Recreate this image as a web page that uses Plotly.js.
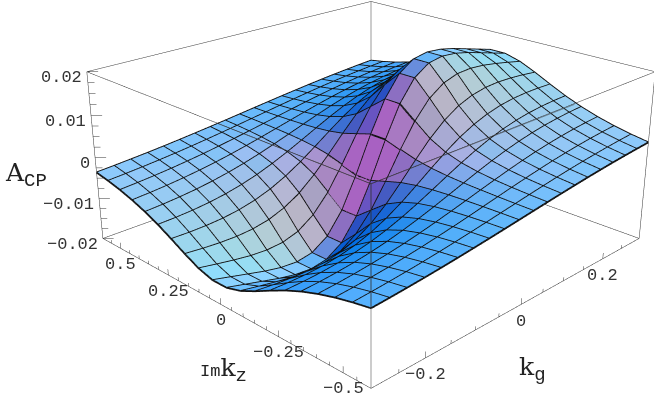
<!DOCTYPE html>
<html>
<head>
<meta charset="utf-8">
<script src="https://cdn.plot.ly/plotly-3.0.1.min.js"></script>
<style>
  html, body { margin: 0; padding: 0; width: 654px; height: 400px; overflow: hidden; background: #fff; }
  /* plotly's fov is fixed, so the scene is oversized to get the long lens look */
  #chart { position: absolute; left: -408px; top: -319px; width: 1558px; height: 953px; }
</style>
</head>
<body>
<div id="chart"></div>
<script>
const kgValues = [-0.3, -0.268, -0.237, -0.205, -0.174, -0.142, -0.111, -0.079, -0.047, -0.016,
                  0.016, 0.047, 0.079, 0.111, 0.142, 0.174, 0.205, 0.237, 0.268, 0.3];
const kzValues = [-0.6, -0.537, -0.474, -0.411, -0.347, -0.284, -0.221, -0.158, -0.095, -0.032,
                  0.032, 0.095, 0.158, 0.221, 0.284, 0.347, 0.411, 0.474, 0.537, 0.6];

// A_CP in units of 10^-3, one row per kz value, one column per kg value
const acpValues = [
  [-3.61,-3.36,-3.07,-2.75,-2.40,-2.01,-1.60,-1.16,-0.70,-0.24,0.24,0.70,1.16,1.60,2.01,2.40,2.75,3.07,3.36,3.61],
  [-4.26,-3.99,-3.68,-3.31,-2.91,-2.45,-1.96,-1.42,-0.86,-0.29,0.29,0.86,1.42,1.96,2.45,2.91,3.31,3.68,3.99,4.26],
  [-5.07,-4.79,-4.46,-4.05,-3.58,-3.04,-2.44,-1.78,-1.08,-0.37,0.37,1.08,1.78,2.44,3.04,3.58,4.05,4.46,4.79,5.07],
  [-6.09,-5.82,-5.47,-5.02,-4.49,-3.85,-3.12,-2.29,-1.39,-0.48,0.48,1.39,2.29,3.12,3.85,4.49,5.02,5.47,5.82,6.09],
  [-7.37,-7.15,-6.82,-6.36,-5.77,-5.01,-4.11,-3.05,-1.87,-0.64,0.64,1.87,3.05,4.11,5.01,5.77,6.36,6.82,7.15,7.37],
  [-8.90,-8.79,-8.55,-8.13,-7.52,-6.65,-5.56,-4.18,-2.59,-0.90,0.90,2.59,4.18,5.56,6.65,7.52,8.13,8.55,8.79,8.90],
  [-10.69,-10.79,-10.73,-10.47,-9.94,-9.03,-7.74,-5.96,-3.75,-1.31,1.31,3.75,5.96,7.74,9.03,9.94,10.47,10.73,10.79,10.69],
  [-12.58,-12.99,-13.25,-13.33,-13.08,-12.33,-10.96,-8.73,-5.64,-2.00,2.00,5.64,8.73,10.96,12.33,13.08,13.33,13.25,12.99,12.58],
  [-14.27,-15.05,-15.74,-16.34,-16.61,-16.34,-15.20,-12.70,-8.53,-3.10,3.10,8.53,12.70,15.20,16.34,16.61,16.34,15.74,15.05,14.27],
  [-15.30,-16.35,-17.37,-18.41,-19.20,-19.51,-18.86,-16.43,-11.47,-4.26,4.26,11.47,16.43,18.86,19.51,19.20,18.41,17.37,16.35,15.30],
  [-15.30,-16.35,-17.37,-18.41,-19.20,-19.51,-18.86,-16.43,-11.47,-4.26,4.26,11.47,16.43,18.86,19.51,19.20,18.41,17.37,16.35,15.30],
  [-14.27,-15.05,-15.74,-16.34,-16.61,-16.34,-15.20,-12.70,-8.53,-3.10,3.10,8.53,12.70,15.20,16.34,16.61,16.34,15.74,15.05,14.27],
  [-12.58,-12.99,-13.25,-13.33,-13.08,-12.33,-10.96,-8.73,-5.64,-2.00,2.00,5.64,8.73,10.96,12.33,13.08,13.33,13.25,12.99,12.58],
  [-10.69,-10.79,-10.73,-10.47,-9.94,-9.03,-7.74,-5.96,-3.75,-1.31,1.31,3.75,5.96,7.74,9.03,9.94,10.47,10.73,10.79,10.69],
  [-8.90,-8.79,-8.55,-8.13,-7.52,-6.65,-5.56,-4.18,-2.59,-0.90,0.90,2.59,4.18,5.56,6.65,7.52,8.13,8.55,8.79,8.90],
  [-7.37,-7.15,-6.82,-6.36,-5.77,-5.01,-4.11,-3.05,-1.87,-0.64,0.64,1.87,3.05,4.11,5.01,5.77,6.36,6.82,7.15,7.37],
  [-6.09,-5.82,-5.47,-5.02,-4.49,-3.85,-3.12,-2.29,-1.39,-0.48,0.48,1.39,2.29,3.12,3.85,4.49,5.02,5.47,5.82,6.09],
  [-5.07,-4.79,-4.46,-4.05,-3.58,-3.04,-2.44,-1.78,-1.08,-0.37,0.37,1.08,1.78,2.44,3.04,3.58,4.05,4.46,4.79,5.07],
  [-4.26,-3.99,-3.68,-3.31,-2.91,-2.45,-1.96,-1.42,-0.86,-0.29,0.29,0.86,1.42,1.96,2.45,2.91,3.31,3.68,3.99,4.26],
  [-3.61,-3.36,-3.07,-2.75,-2.40,-2.01,-1.60,-1.16,-0.70,-0.24,0.24,0.70,1.16,1.60,2.01,2.40,2.75,3.07,3.36,3.61]
];

const kgRange = [-0.3, 0.3];
const kzRange = [-0.6, 0.6];
const acpRange = [-0.02, 0.02];

const kgLabelled = [-0.2, 0, 0.2];
const kzLabelled = [-0.5, -0.25, 0, 0.25, 0.5];
const acpLabelled = [-0.02, -0.01, 0, 0.01, 0.02];
const kgMinor = [-0.25, -0.15, -0.1, -0.05, 0.05, 0.1, 0.15, 0.25];
const kzMinor = [-0.45, -0.4, -0.35, -0.3, -0.2, -0.15, -0.1, -0.05, 0.05, 0.1, 0.15, 0.2, 0.3, 0.35, 0.4, 0.45, 0.55, -0.55];
const acpMinor = [-0.0175, -0.015, -0.0125, -0.0075, -0.005, -0.0025, 0.0025, 0.005, 0.0075, 0.0125, 0.015, 0.0175];

const boxZ = 0.46;
const elev = 22 * Math.PI / 180;
const eye = { x: -1.934, y: -1.934, z: 1.10 };

const monoFont = "Liberation Mono, Courier New, monospace";
const serifFont = "DejaVu Serif, Liberation Serif, serif";
const acp = acpValues.map(row => row.map(v => v * 1e-3));

// shading from the cell normal, tuned by eye to the reference tones
function shade(n) {
  const len = Math.hypot(n[0], n[1], n[2]);
  const nx = n[0] / len, ny = n[1] / len, nz = n[2] / len;
  const right = (nx - ny) * Math.SQRT1_2;
  const up = (nx + ny) * Math.SQRT1_2 * Math.sin(elev) + nz * Math.cos(elev);
  const steep = Math.max(0, 0.9 - up);
  let r, g;
  if (right < 0) {
    r = Math.min(0.66, 0.48 + right + 1.27 * steep);
    g = 0.78 + 0.61 * right - 0.25 * steep * Math.max(0, 1 + right / 0.7);
  } else {
    r = Math.min(0.72, 0.48 + Math.min(right, 0.07) + 0.4 * steep);
    g = Math.max(0.6, 0.78 + 0.3 * right - 0.25 * steep);
  }
  const b = Math.max(0.76, 0.62 + 0.42 * up + 0.14 * Math.min(0, right));
  const c = v => Math.round(255 * Math.max(0, Math.min(1, v)));
  return `rgb(${c(r)},${c(g)},${c(b)})`;
}

const vx = [], vy = [], vz = [], ti = [], tj = [], tk = [], faceColor = [];
const nk = kgValues.length, nz = kzValues.length;
for (let r = 0; r < nz; r++) {
  for (let c = 0; c < nk; c++) {
    vx.push(kgValues[c]);
    vy.push(kzValues[r]);
    vz.push(acp[r][c]);
  }
}
for (let r = 0; r < nz - 1; r++) {
  for (let c = 0; c < nk - 1; c++) {
    const a = r * nk + c, b = a + 1, d = a + nk, e = d + 1;
    const sx = 1 / 0.3, sy = 1 / 0.6, sz = boxZ / 0.02;
    const u = [(kgValues[c + 1] - kgValues[c]) * sx, 0, ((acp[r][c + 1] + acp[r + 1][c + 1] - acp[r][c] - acp[r + 1][c]) / 2) * sz];
    const v = [0, (kzValues[r + 1] - kzValues[r]) * sy, ((acp[r + 1][c] + acp[r + 1][c + 1] - acp[r][c] - acp[r][c + 1]) / 2) * sz];
    const n = [u[1] * v[2] - u[2] * v[1], u[2] * v[0] - u[0] * v[2], u[0] * v[1] - u[1] * v[0]];
    const col = shade(n);
    ti.push(a, a);
    tj.push(b, e);
    tk.push(e, d);
    faceColor.push(col, col);
  }
}

const surface = {
  type: "mesh3d", x: vx, y: vy, z: vz, i: ti, j: tj, k: tk,
  facecolor: faceColor, flatshading: true, hoverinfo: "skip", showscale: false,
  lighting: { ambient: 1, diffuse: 0, specular: 0, fresnel: 0, roughness: 1 }
};

// mesh lines
const gx = [], gy = [], gz = [];
for (let r = 0; r < nz; r++) {
  for (let c = 0; c < nk; c++) { gx.push(kgValues[c]); gy.push(kzValues[r]); gz.push(acp[r][c]); }
  gx.push(null); gy.push(null); gz.push(null);
}
for (let c = 0; c < nk; c++) {
  for (let r = 0; r < nz; r++) { gx.push(kgValues[c]); gy.push(kzValues[r]); gz.push(acp[r][c]); }
  gx.push(null); gy.push(null); gz.push(null);
}
const meshLines = {
  type: "scatter3d", mode: "lines", x: gx, y: gy, z: gz, hoverinfo: "skip",
  line: { color: "#111", width: 3.5 }, showlegend: false
};

// bounding box
const [x0, x1] = kgRange, [y0, y1] = kzRange, [z0, z1] = acpRange;
const bx = [], by = [], bz = [];
function seg(a, b) {
  bx.push(a[0], b[0], null); by.push(a[1], b[1], null); bz.push(a[2], b[2], null);
}
[z0, z1].forEach(z => {
  seg([x0, y0, z], [x1, y0, z]); seg([x1, y0, z], [x1, y1, z]);
  seg([x1, y1, z], [x0, y1, z]); seg([x0, y1, z], [x0, y0, z]);
});
seg([x0, y0, z0], [x0, y0, z1]); seg([x1, y0, z0], [x1, y0, z1]);
seg([x1, y1, z0], [x1, y1, z1]); seg([x0, y1, z0], [x0, y1, z1]);

// ticks
kgLabelled.forEach(k => seg([k, y0, z0], [k, y0, z0 + 0.0014]));
kgMinor.forEach(k => seg([k, y0, z0], [k, y0, z0 + 0.0008]));
kzLabelled.forEach(k => seg([x0, k, z0], [x0, k, z0 + 0.0014]));
kzMinor.forEach(k => seg([x0, k, z0], [x0, k, z0 + 0.0008]));
acpLabelled.forEach(v => seg([x0, y1, v], [x0 + 0.012, y1 - 0.024, v]));
acpMinor.forEach(v => seg([x0, y1, v], [x0 + 0.007, y1 - 0.014, v]));

const boxLines = {
  type: "scatter3d", mode: "lines", x: bx, y: by, z: bz, hoverinfo: "skip",
  line: { color: "#333", width: 1 }, showlegend: false
};

function fmt(v) {
  return String(v).replace("-", "\u2212");
}
const tickFont = { family: monoFont, size: 17, color: "#333" };
const bigFont = { family: serifFont, size: 25, color: "#222" };
const mono = (t, s) => `<span style="font-family:'Liberation Mono';font-size:${s}px">${t}</span>`;
const annotations = [];
kgLabelled.forEach(k => annotations.push({
  x: k, y: y0, z: z0, text: fmt(k), showarrow: false, font: tickFont, yshift: -17
}));
kzLabelled.forEach(k => annotations.push({
  x: x0, y: k, z: z0, text: fmt(k), showarrow: false, font: tickFont, yshift: -16
}));
acpLabelled.forEach(v => annotations.push({
  x: x0, y: y1, z: v, text: fmt(v), showarrow: false, font: tickFont, xanchor: "right", xshift: -3, yshift: -6
}));
annotations.push({
  x: x0, y: y1, z: 0, text: "A<sub>" + mono("CP", 19) + "</sub>", showarrow: false, xanchor: "right", xshift: -46, yshift: -18,
  font: bigFont
});
annotations.push({
  x: x0, y: 0, z: z0, text: mono("Im", 17) + "k<sub>" + mono("z", 19) + "</sub>", showarrow: false, xshift: 3, yshift: -66,
  font: bigFont
});
annotations.push({
  x: 0, y: y0, z: z0, text: "k<sub>" + mono("g", 19) + "</sub>", showarrow: false, xshift: 11, yshift: -65,
  font: bigFont
});

// the box edges that show faintly through the surface in the reference
const faintEdge = (ax, ay) => ({
  x: x0, y: y0, z: z1, text: "", showarrow: true, arrowhead: 0, arrowwidth: 1,
  arrowcolor: "rgba(50,50,50,0.45)", ax: ax, ay: ay
});
annotations.push(faintEdge(-155, -61), faintEdge(205, -80), faintEdge(0, 125));

const hiddenAxis = range => ({
  range: range, showgrid: false, zeroline: false, showspikes: false,
  showbackground: false, showticklabels: false, showline: false, ticks: "", title: { text: "" }
});

const layout = {
  width: 1558, height: 953,
  margin: { l: 0, r: 0, t: 0, b: 0 },
  paper_bgcolor: "#fff",
  showlegend: false,
  scene: {
    domain: { x: [0, 1], y: [0, 1] },
    xaxis: hiddenAxis(kgRange),
    yaxis: hiddenAxis(kzRange),
    zaxis: hiddenAxis(acpRange),
    aspectmode: "manual",
    aspectratio: { x: 1, y: 1, z: boxZ },
    camera: { eye: eye, center: { x: 0, y: 0, z: 0 }, up: { x: 0, y: 0, z: 1 }, projection: { type: "perspective" } },
    annotations: annotations
  }
};

Plotly.newPlot("chart", [surface, meshLines, boxLines], layout, { displayModeBar: false });
</script>
</body>
</html>
